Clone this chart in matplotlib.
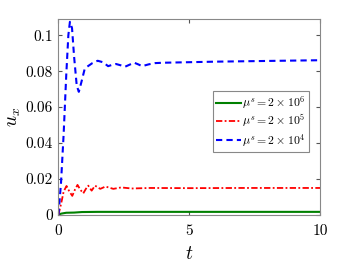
import matplotlib
matplotlib.use("Agg")
import matplotlib.pyplot as plt

# значения
t_blue = [0, 0.1, 0.2, 0.3, 0.38, 0.44, 0.52, 0.6, 0.7, 0.78, 0.88, 1.0, 1.1, 1.3, 1.5, 1.7, 1.9,
          2.05, 2.2, 2.4, 2.55, 2.75, 2.9, 3.05, 3.2, 3.45, 3.7, 4.0, 5.0, 6.0, 7.0, 8.0, 9.0, 10.0]
u_blue = [0, 0.018, 0.045, 0.078, 0.1, 0.1075, 0.104, 0.088, 0.072, 0.0685, 0.074, 0.081, 0.0825,
          0.0845, 0.0858, 0.085, 0.0828, 0.0835, 0.084, 0.0832, 0.0825, 0.0838, 0.0847, 0.0838,
          0.0828, 0.0838, 0.0845, 0.0847, 0.085, 0.0853, 0.0855, 0.0857, 0.0859, 0.0861]

t_red = [0, 0.1, 0.2, 0.31, 0.42, 0.53, 0.63, 0.73, 0.84, 0.95, 1.05, 1.14, 1.27, 1.4, 1.6, 1.8,
         2.1, 2.4, 2.8, 3.5, 5.0, 7.0, 10.0]
u_red = [0, 0.006, 0.013, 0.0161, 0.013, 0.0106, 0.014, 0.0167, 0.014, 0.012, 0.0145, 0.0163,
         0.0135, 0.0163, 0.0145, 0.0158, 0.0145, 0.0153, 0.0147, 0.015, 0.0149, 0.015, 0.015]

t_green = [0, 0.1, 0.3, 0.6, 0.9, 1.5, 3.0, 5.0, 10.0]
u_green = [0, 0.0007, 0.0012, 0.0013, 0.0016, 0.0017, 0.0017, 0.0017, 0.0017]

labels = [r'$\mu^s = 2\times 10^6$', r'$\mu^s = 2\times 10^5$', r'$\mu^s = 2\times 10^4$']

plt.rcParams['font.family'] = 'serif'
plt.rcParams['font.serif'] = ['cmr10']
plt.rcParams['mathtext.fontset'] = 'cm'
plt.rcParams['axes.formatter.use_mathtext'] = True

fig = plt.figure(figsize=(3.54, 2.65), dpi=100)
ax = fig.add_axes([0.165, 0.189, 0.739, 0.739])

ax.plot(t_green, u_green, color='#008000', lw=1.5, label=labels[0])
ax.plot(t_red, u_red, color='red', lw=1.3, linestyle=(0, (3.5, 1.3, 1, 1.3)), label=labels[1])
ax.plot(t_blue, u_blue, color='blue', lw=1.5, linestyle=(0, (3, 2)), label=labels[2])

ax.set_xlim(0, 10)
ax.set_ylim(0, 0.109)
ax.set_xticks([0, 5, 10])
ax.set_xticklabels(['0', '5', '10'])
ax.set_yticks([0, 0.02, 0.04, 0.06, 0.08, 0.1])
ax.set_yticklabels(['0', '0.02', '0.04', '0.06', '0.08', '0.1'])
ax.tick_params(direction='in', top=True, right=True, labelsize=11, length=3,
               color='#555555')
ax.tick_params(axis='x', pad=7)
ax.tick_params(axis='y', pad=4)
for s in ax.spines.values():
    s.set_color('#888888')
    s.set_linewidth(0.8)

ax.set_xlabel(r'$t$', fontsize=14, labelpad=5)
ax.set_ylabel(r'$u_x$', fontsize=14, labelpad=2)

leg = ax.legend(loc='center right', bbox_to_anchor=(0.958, 0.477), fontsize=8.5,
                fancybox=False, framealpha=1, edgecolor='#888888', handlelength=2.1,
                handletextpad=0.1, borderpad=0.3, labelspacing=0.15, borderaxespad=0)
leg.get_frame().set_linewidth(0.8)

fig.savefig('out.png', dpi=100)
